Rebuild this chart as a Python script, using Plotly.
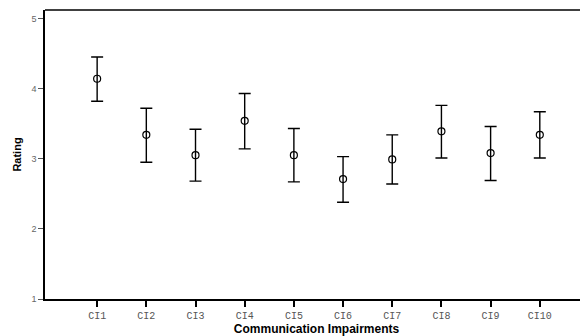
import plotly.graph_objects as go

categories = ["CI1", "CI2", "CI3", "CI4", "CI5", "CI6", "CI7", "CI8", "CI9", "CI10"]
means = [4.14, 3.34, 3.05, 3.54, 3.05, 2.71, 2.99, 3.39, 3.08, 3.34]
upper = [4.45, 3.72, 3.42, 3.93, 3.43, 3.03, 3.34, 3.76, 3.46, 3.67]
lower = [3.82, 2.95, 2.68, 3.14, 2.67, 2.38, 2.64, 3.01, 2.69, 3.01]
y_ticks = [1, 2, 3, 4, 5]

err_plus = [u - m for u, m in zip(upper, means)]
err_minus = [m - l for m, l in zip(means, lower)]

fig = go.Figure()
fig.add_trace(go.Scatter(
    x=list(range(len(categories))), y=means, mode="markers",
    marker=dict(symbol="circle-open", size=7, color="black", line=dict(width=1.2, color="black")),
    error_y=dict(type="data", symmetric=False, array=err_plus, arrayminus=err_minus,
                 color="black", thickness=1.4, width=6),
    showlegend=False, hoverinfo="skip",
))

fig.add_shape(type="line", xref="paper", yref="paper", x0=0, x1=1, y0=1, y1=1,
              line=dict(color="black", width=1.5))

fig.update_layout(
    width=580, height=328,
    margin=dict(l=37, r=0, t=2, b=37),
    paper_bgcolor="white", plot_bgcolor="white",
    xaxis=dict(
        range=[-1.06, 9.98], tickmode="array", tickvals=list(range(len(categories))),
        ticktext=categories, showgrid=False, zeroline=False,
        showline=True, linecolor="black", linewidth=1.5,
        ticks="outside", ticklen=6, tickwidth=1.5, tickcolor="black",
        tickfont=dict(family="Liberation Mono, Courier New, monospace", size=10, color="#555555"),
        title=dict(text="<b>Communication Impairments</b>",
                   font=dict(family="Liberation Sans, Arial, sans-serif", size=12, color="black"),
                   standoff=2),
    ),
    yaxis=dict(
        range=[1, 5.12], tickmode="array", tickvals=y_ticks, ticktext=[str(v) for v in y_ticks],
        showgrid=False, zeroline=False,
        showline=True, linecolor="black", linewidth=1.5,
        ticks="outside", ticklen=5, tickwidth=1, tickcolor="#555555",
        tickfont=dict(family="Liberation Sans, Arial, sans-serif", size=9, color="#666666"),
        title=dict(text="<b>Rating</b>",
                   font=dict(family="Liberation Sans, Arial, sans-serif", size=11, color="black"),
                   standoff=8),
    ),
)

fig.write_html("out.html")
